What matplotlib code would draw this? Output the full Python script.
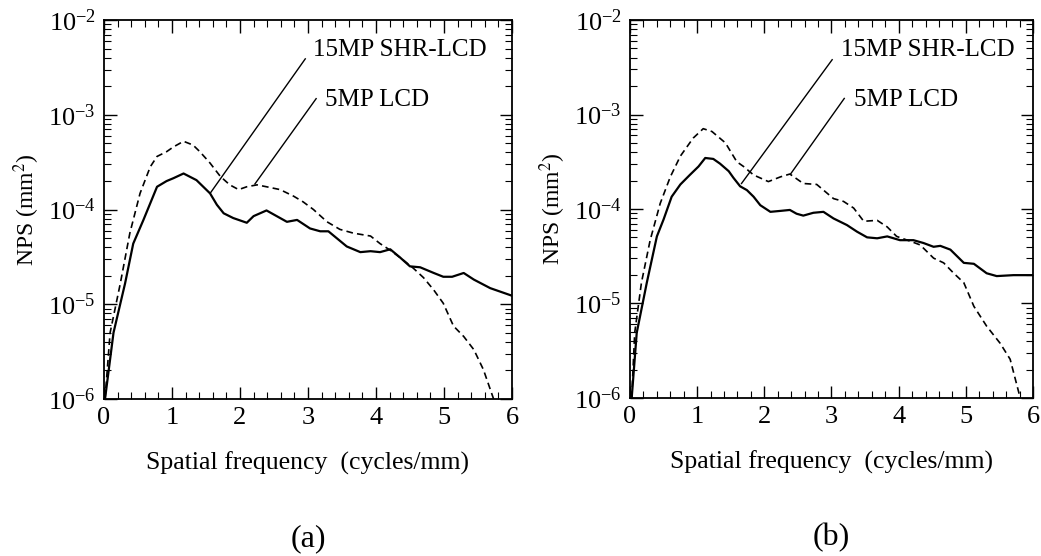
import numpy as np
import matplotlib.pyplot as plt
from matplotlib.ticker import MultipleLocator, LogLocator, LogFormatterMathtext

plt.rcParams['font.family'] = ['Liberation Serif', 'DejaVu Serif']
plt.rcParams['mathtext.fontset'] = 'stix'

# panel (a): 15MP SHR-LCD (solid), log10 NPS
a_shr_x = [0.015, 0.14, 0.31, 0.43, 0.58, 0.78, 0.92, 1.02, 1.17, 1.36, 1.56, 1.66, 1.76,
           1.90, 2.10, 2.20, 2.39, 2.54, 2.69, 2.84, 3.03, 3.18, 3.30, 3.57, 3.77, 3.92,
           4.06, 4.21, 4.36, 4.50, 4.65, 4.85, 4.99, 5.12, 5.29, 5.44, 5.68, 6.0]
a_shr_y = [-6.0, -5.30, -4.78, -4.36, -4.11, -3.76, -3.70, -3.67, -3.62, -3.69, -3.83, -3.95,
           -4.04, -4.09, -4.14, -4.07, -4.01, -4.07, -4.13, -4.11, -4.20, -4.23, -4.23, -4.39,
           -4.45, -4.44, -4.45, -4.42, -4.51, -4.60, -4.61, -4.67, -4.71, -4.71, -4.67, -4.74,
           -4.83, -4.91]
# panel (a): 5MP LCD (dashed)
a_lcd_x = [0.015, 0.09, 0.24, 0.38, 0.53, 0.68, 0.78, 0.92, 1.02, 1.17, 1.31, 1.41, 1.56,
           1.71, 1.85, 1.98, 2.10, 2.25, 2.39, 2.59, 2.79, 2.93, 3.08, 3.28, 3.47, 3.67,
           3.92, 4.06, 4.21, 4.36, 4.55, 4.70, 4.85, 4.99, 5.14, 5.29, 5.44, 5.58, 5.73]
a_lcd_y = [-6.0, -5.30, -4.78, -4.25, -3.83, -3.55, -3.44, -3.39, -3.34, -3.28, -3.32, -3.39,
           -3.51, -3.65, -3.74, -3.79, -3.76, -3.74, -3.76, -3.79, -3.86, -3.92, -4.00, -4.13,
           -4.21, -4.25, -4.28, -4.36, -4.43, -4.51, -4.62, -4.72, -4.85, -4.99, -5.23, -5.34,
           -5.48, -5.69, -6.0]

# panel (b)
b_shr_x = [0.025, 0.10, 0.25, 0.40, 0.50, 0.62, 0.75, 0.89, 1.02, 1.12, 1.24, 1.34, 1.47,
           1.54, 1.64, 1.74, 1.84, 1.94, 2.09, 2.24, 2.38, 2.48, 2.58, 2.73, 2.88, 3.03,
           3.23, 3.38, 3.53, 3.68, 3.83, 4.02, 4.22, 4.37, 4.52, 4.62, 4.77, 4.97, 5.12,
           5.31, 5.46, 5.71, 6.0]
b_shr_y = [-6.0, -5.31, -4.78, -4.29, -4.11, -3.87, -3.74, -3.64, -3.55, -3.46, -3.47, -3.52,
           -3.60, -3.67, -3.76, -3.80, -3.87, -3.96, -4.03, -4.02, -4.01, -4.05, -4.07, -4.04,
           -4.03, -4.10, -4.17, -4.24, -4.30, -4.31, -4.29, -4.33, -4.33, -4.36, -4.40, -4.39,
           -4.43, -4.57, -4.58, -4.68, -4.71, -4.70, -4.70]
b_lcd_x = [0.025, 0.07, 0.17, 0.30, 0.45, 0.60, 0.75, 0.94, 1.09, 1.22, 1.42, 1.59, 1.69,
           1.84, 2.06, 2.24, 2.38, 2.58, 2.78, 3.03, 3.18, 3.33, 3.48, 3.68, 3.83, 3.97,
           4.17, 4.32, 4.52, 4.67, 4.82, 4.97, 5.12, 5.31, 5.51, 5.66, 5.81]
b_lcd_y = [-6.0, -5.31, -4.78, -4.33, -3.94, -3.66, -3.44, -3.25, -3.15, -3.18, -3.30, -3.50,
           -3.55, -3.64, -3.71, -3.66, -3.63, -3.73, -3.74, -3.89, -3.92, -3.99, -4.13, -4.12,
           -4.19, -4.29, -4.34, -4.38, -4.52, -4.57, -4.68, -4.78, -5.03, -5.24, -5.42, -5.59,
           -6.0]

labels = ['15MP SHR-LCD', '5MP LCD']

fig = plt.figure(figsize=(10.41, 5.56), dpi=100)
ax_a = fig.add_axes([0.0999, 0.2824, 0.3919, 0.6816])
ax_b = fig.add_axes([0.6052, 0.2842, 0.3871, 0.6798])

panels = [
    (ax_a, a_shr_x, a_shr_y, a_lcd_x, a_lcd_y, '(a)',
     [((1.57, -3.82), (2.96, -2.41), (3.08, -2.32)),
      ((2.22, -3.73), (3.12, -2.83), (3.25, -2.84))]),
    (ax_b, b_shr_x, b_shr_y, b_lcd_x, b_lcd_y, '(b)',
     [((1.66, -3.73), (3.01, -2.42), (3.14, -2.32)),
      ((2.39, -3.63), (3.19, -2.83), (3.33, -2.85))]),
]

for ax, sx, sy, lx, ly, tag, ann in panels:
    ax.plot(sx, 10 ** np.array(sy), color='black', lw=1.6)
    ax.plot(lx, 10 ** np.array(ly), color='black', lw=1.2, ls=(0, (4, 2.5)))
    ax.set_yscale('log')
    ax.set_xlim(0, 6)
    ax.set_ylim(1e-6, 1e-2)
    ax.xaxis.set_major_locator(MultipleLocator(1))
    ax.xaxis.set_minor_locator(MultipleLocator(0.2))
    ax.yaxis.set_major_locator(LogLocator(base=10, numticks=10))
    ax.yaxis.set_minor_locator(LogLocator(base=10, subs=np.arange(2, 10), numticks=10))
    ax.yaxis.set_major_formatter(LogFormatterMathtext())
    ax.tick_params(which='both', direction='in', top=True, right=True, labelsize=19)
    ax.tick_params(which='major', length=9, width=1.0, pad=6)
    ax.tick_params(which='minor', length=5, width=0.8)
    for s in ax.spines.values():
        s.set_linewidth(1.3)
    ax.set_ylabel('NPS (mm$^2$)', fontsize=17, labelpad=4)
    ax.set_xlabel('Spatial frequency  (cycles/mm)', fontsize=18.5, labelpad=16)
    ax.text(0.5, -0.37, tag, transform=ax.transAxes, ha='center', va='center', fontsize=23)
    for (p0, p1, pt), lab in zip(ann, labels):
        ax.plot([p0[0], p1[0]], [10 ** p0[1], 10 ** p1[1]], color='black', lw=1.0)
        ax.text(pt[0], 10 ** pt[1], lab, fontsize=18, ha='left', va='center')

fig.savefig('out.png', dpi=100)
